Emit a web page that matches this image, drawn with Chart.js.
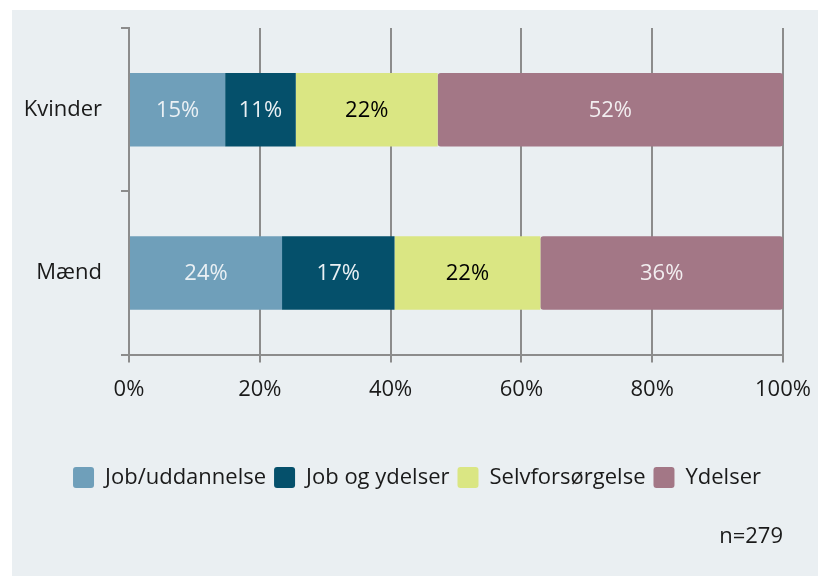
<!DOCTYPE html>
<html>
<head>
<meta charset="utf-8">
<script src="https://cdn.jsdelivr.net/npm/chart.js@4"></script>
<style>
  html, body { margin: 0; padding: 0; background: #fff; }
  #wrap { width: 818px; height: 576px; }
</style>
</head>
<body>
<div id="wrap"><canvas id="chart" width="818" height="576"></canvas></div>
<script>
const groups = ["Kvinder", "Mænd"];
const seriesNames = ["Job/uddannelse", "Job og ydelser", "Selvforsørgelse", "Ydelser"];

// bar lengths (share of the bar, %)
const jobUddannelse = [14.7, 23.4];
const jobOgYdelser = [10.8, 17.2];
const selvforsorgelse = [21.7, 22.3];
const ydelser = [52.8, 37.1];

// the rounded numbers printed on the bars
const jobUddannelseLbl = [15, 24];
const jobOgYdelserLbl = [11, 17];
const selvforsorgelseLbl = [22, 22];
const ydelserLbl = [52, 36];

const xTicks = [0, 20, 40, 60, 80, 100];
const note = "n=279";

const FONT = "'Open Sans', sans-serif";
const gridGray = '#8c8c8c';

// light panel behind the chart
const panelBg = {
  id: 'panelBg',
  beforeDraw(chart) {
    const ctx = chart.ctx;
    ctx.save();
    ctx.fillStyle = '#ffffff';
    ctx.fillRect(0, 0, chart.width, chart.height);
    ctx.fillStyle = '#eaeff2';
    ctx.fillRect(12, 10, chart.width - 12, chart.height - 10);
    ctx.restore();
  }
};

// nudge the legend a little to the right, like the original
const legendShift = {
  id: 'legendShift',
  afterLayout(chart) {
    chart.legend.left += 14;
    chart.legend.right += 14;
  }
};

// percentage labels in the middle of each segment
const segLabels = {
  id: 'segLabels',
  afterDatasetsDraw(chart) {
    const ctx = chart.ctx;
    ctx.save();
    ctx.font = "22px " + FONT;
    ctx.textAlign = 'center';
    ctx.textBaseline = 'middle';
    chart.data.datasets.forEach((ds, di) => {
      const meta = chart.getDatasetMeta(di);
      meta.data.forEach((bar, i) => {
        const p = bar.getCenterPoint();
        ctx.fillStyle = ds.labelColor;
        ctx.fillText(ds.shown[i] + '%', p.x, p.y + 1);
      });
    });
    ctx.restore();
  }
};

new Chart(document.getElementById('chart'), {
  type: 'bar',
  data: {
    labels: groups,
    datasets: [
      { label: seriesNames[0], data: jobUddannelse, shown: jobUddannelseLbl, backgroundColor: '#6f9fba', labelColor: '#eaf0f4' },
      { label: seriesNames[1], data: jobOgYdelser, shown: jobOgYdelserLbl, backgroundColor: '#05506b', labelColor: '#eaf0f4' },
      { label: seriesNames[2], data: selvforsorgelse, shown: selvforsorgelseLbl, backgroundColor: '#dae683', labelColor: '#000000' },
      { label: seriesNames[3], data: ydelser, shown: ydelserLbl, backgroundColor: '#a37786', labelColor: '#f2eef0' }
    ]
  },
  options: {
    indexAxis: 'y',
    responsive: false,
    animation: false,
    layout: { padding: { left: 23, right: 35, top: 28, bottom: 18 } },
    datasets: {
      bar: {
        barPercentage: 0.45,
        categoryPercentage: 1,
        borderWidth: 0,
        borderRadius: 3,
        borderSkipped: false
      }
    },
    plugins: {
      tooltip: { enabled: false },
      legend: {
        position: 'bottom',
        labels: {
          font: { family: FONT, size: 22 },
          color: '#1a1a1a',
          boxWidth: 21,
          boxHeight: 21,
          padding: 8,
          useBorderRadius: true,
          borderRadius: 3
        }
      },
      subtitle: {
        display: true,
        text: note,
        position: 'bottom',
        align: 'end',
        fullSize: false,
        color: '#1a1a1a',
        font: { family: FONT, size: 22, weight: 'normal' },
        padding: { top: 25, bottom: 8 }
      }
    },
    scales: {
      x: {
        stacked: true,
        min: 0,
        max: 100,
        afterBuildTicks(scale) { scale.ticks = xTicks.map(v => ({ value: v })); },
        afterFit(scale) {
          scale.height = 104;
          scale.paddingLeft = 0;
          scale.paddingRight = 0;
        },
        ticks: {
          callback: v => v + '%',
          color: '#1a1a1a',
          font: { family: FONT, size: 22 },
          padding: 14,
          maxRotation: 0
        },
        grid: { color: gridGray, lineWidth: 2, tickLength: 8 },
        border: { color: gridGray, width: 2 }
      },
      y: {
        stacked: true,
        afterFit(scale) {
          scale.width = 106;
          scale.paddingTop = 0;
          scale.paddingBottom = 0;
        },
        ticks: {
          color: '#1a1a1a',
          font: { family: FONT, size: 22 },
          padding: 19
        },
        grid: { drawOnChartArea: false, color: gridGray, lineWidth: 2, tickLength: 8, offset: true },
        border: { color: gridGray, width: 2 }
      }
    }
  },
  plugins: [panelBg, legendShift, segLabels]
});
</script>
</body>
</html>
